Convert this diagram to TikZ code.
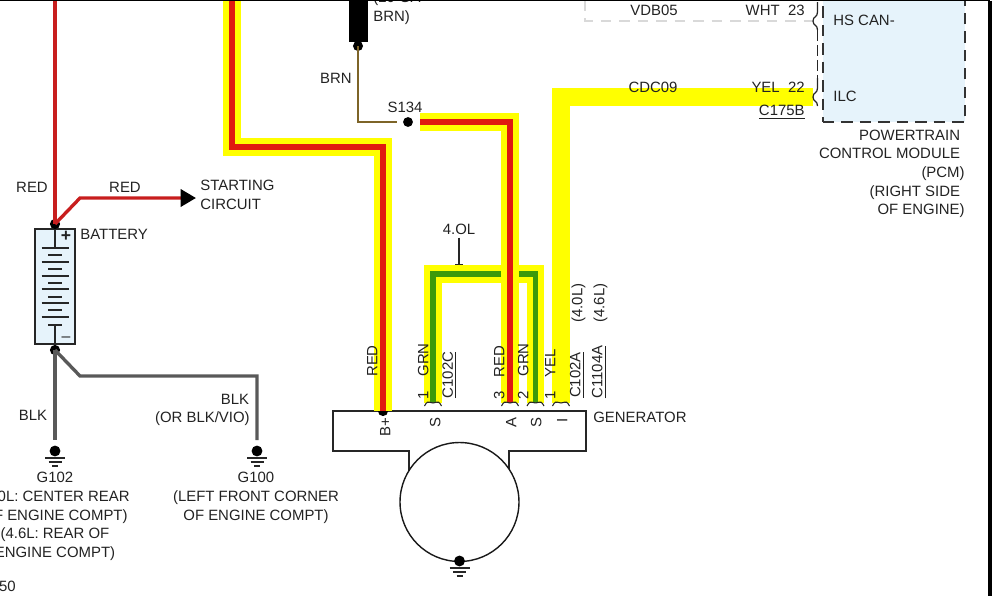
\documentclass[tikz,border=0pt]{standalone}
\usepackage{fontspec}
\setmainfont{Liberation Sans}
\usepackage{xcolor}
\usetikzlibrary{arrows.meta}
\definecolor{wirered}{HTML}{E01A10}
\definecolor{batred}{HTML}{C81E1E}
\definecolor{wireyel}{HTML}{FFFF00}
\definecolor{wiregrn}{HTML}{3C9A0A}
\definecolor{wirebrn}{HTML}{7D6428}
\definecolor{wireblk}{HTML}{595959}
\definecolor{modblue}{HTML}{E6F3FB}
\definecolor{txt}{HTML}{222222}
\newcommand{\lpad}{\rule{2.6pt}{0pt}}
\tikzset{
	lbl/.style={inner sep=0pt,text=txt,font=\fontsize{8.5pt}{10.6pt}\selectfont,text height=6.1pt,text depth=0pt},
	mlbl/.style={inner sep=0pt,text=txt,font=\fontsize{8.5pt}{10.6pt}\selectfont},
	vlbl/.style={lbl,rotate=90},
	dot/.style={circle,fill=black,inner sep=0pt,minimum size=#1},
	halo/.style={wireyel,line width=9.8pt},
	redcore/.style={wirered,line width=3pt},
	grncore/.style={wiregrn,line width=3pt},
	thin wire/.style={line width=0.6pt,black!85}
}
\begin{document}
\begin{tikzpicture}[x=0.02cm,y=-0.02cm]
	\useasboundingbox (0,0) rectangle (1002,596);
	% page edges
	\coordinate (tl) at (0,0.5);
	\coordinate (tr) at (990,0.5);
	\coordinate (br) at (990,596);
	% pcm
	\node [draw=black!80,fill=modblue,dash pattern=on 6.5pt off 4pt,line width=0.8pt,minimum width=2.84cm,minimum height=2.56cm,inner sep=0pt] (pcm) at (894,58) {};
	\node [lbl,anchor=west] (hscan) at (833,20) {HS CAN-};
	\node [lbl,anchor=west] (ilc) at (833,96) {ILC};
	\node [mlbl,anchor=north east,align=right] (pcmname) at (965,129.5) {POWERTRAIN\lpad\\CONTROL MODULE\lpad\\(PCM)\\(RIGHT SIDE\lpad\\OF ENGINE)};
	% can wire
	\coordinate (tabhs) at (813,21);
	\coordinate (tabilc) at (813,97);
	\coordinate (vdbtop) at (585,0);
	\draw [black!15,line width=1.7pt,dash pattern=on 6pt off 4.5pt] (vdbtop) |- (tabhs);
	% generator
	\draw [line width=0.8pt,black!85,fill=white] (409,475) -- (409,451) -- (333,451) -- (333,411) -- (586,411) -- (586,451) -- (509,451) -- (509,475);
	\node [circle,draw=black!90,fill=white,line width=0.8pt,minimum size=2.38cm,inner sep=0pt] (gen) at (459.5,502) {};
	\node [lbl,anchor=west] (genname) at (593,417) {GENERATOR};
	\coordinate (tabs) at (433,403);
	\coordinate (taba) at (510,403);
	\coordinate (tabss) at (535.5,403);
	\coordinate (tabi) at (561,403);
	% wires
	\coordinate (bptop) at (232,0);
	\node [dot=5.8pt] (bplus) at (383,411) {};
	\node [dot=5.6pt] (s134) at (408,122) {};
	\draw [halo] (bptop) |- (383,147) -- (bplus.center);
	\draw [redcore] (bptop) |- (383,147) -- (bplus.center);
	\draw [halo] (tabi) |- (tabilc);
	\draw [halo] (tabs) |- (535.5,274) -- (tabss);
	\draw [grncore] (tabs) |- (535.5,274) -- (tabss);
	\draw [halo,shorten <=6.8pt] (s134.center) -| (taba);
	\draw [redcore,shorten <=6.8pt] (s134.center) -| (taba);
	% tabs on the generator
	\foreach \tname/\tx in {tabs/433,taba/510,tabss/535.5,tabi/561} {
		\draw [thin wire] (\tx-8.5,406) .. controls (\tx-6,401.5) .. (\tname);
		\draw [thin wire] (\tname) .. controls (\tx+6,401.5) .. (\tx+8.5,406);
	}
	% tabs on the pcm
	\draw [thin wire,line width=0.7pt] (817.5,2) -- (817.5,12) .. controls (817.5,18) and (813,16) .. (tabhs) .. controls (813,26) and (817.5,24) .. (817.5,30);
	\draw [thin wire,line width=0.7pt] (817.5,78) -- (817.5,88) .. controls (817.5,94) and (813,92) .. (tabilc) .. controls (813,102) and (817.5,100) .. (817.5,106);
	\draw [thin wire,line width=0.7pt,dash pattern=on 6.5pt off 2pt] (817.5,30) -- (817.5,78);
	% splice feed
	\node [fill=black,minimum width=0.38cm,minimum height=0.84cm,inner sep=0pt] (feed) at (358.5,21) {};
	\node [dot=5.7pt] (feeddot) at (358,46) {};
	\draw [wirebrn,line width=1.7pt,shorten >=6.2pt] (feeddot.center) |- (s134.center);
	% battery
	\node [draw=black!85,fill=modblue,line width=0.7pt,minimum width=0.8cm,minimum height=2.3cm,inner sep=0pt] (batt) at (55,286.5) {};
	\draw [thin wire] (batt.north) -- (55,248);
	\draw [thin wire] (55,325) -- (batt.south);
	\foreach \py/\pw in {248/13.5,255/7,262/13.5,269/7,276/13.5,283/7,289/13.5,297/7,303/13.5,310/7,317/13.5,325/7} {
		\draw [thin wire] (55-\pw,\py) -- (55+\pw,\py);
	}
	\node [mlbl,font=\fontsize{10pt}{10pt}\bfseries\selectfont] (plus) at (66,236) {+};
	\node [mlbl,font=\fontsize{9pt}{10pt}\selectfont] (minus) at (66,339) {--};
	\node [dot=5.8pt] (bpos) at (55,224) {};
	\node [dot=5.8pt] (bneg) at (55,350) {};
	\coordinate (redtop) at (55,0);
	\coordinate (startend) at (196,198);
	\draw [batred,line width=1.9pt] (redtop) -- (bpos.center);
	\draw [batred,line width=1.9pt,-{Triangle[black,length=8.8pt,width=9.8pt]}] (bpos.center) -- (80,198) -- (startend);
	% grounds
	\foreach \gx/\gy/\gname in {55/451/gl,257/451/gr,459.5/561/gg} {
		\node [dot=6.2pt] (\gname) at (\gx,\gy) {};
		\draw [thin wire] (\gx-10,\gy+7) -- (\gx+10,\gy+7);
		\draw [thin wire] (\gx-6.5,\gy+11) -- (\gx+6.5,\gy+11);
		\draw [thin wire] (\gx-3,\gy+15) -- (\gx+3,\gy+15);
	}
	\draw [wireblk,line width=1.9pt,shorten >=6.2pt] (bneg.center) -- (gl.center);
	\draw [wireblk,line width=1.9pt,shorten >=6.2pt] (bneg.center) -- (80,376) -| (gr.center);
	% left labels
	\node [lbl] (redl) at (32,187) {RED};
	\node [lbl] (redm) at (125,187) {RED};
	\node [mlbl,anchor=west,align=left] (startcirc) at (200,195) {STARTING\\CIRCUIT};
	\node [lbl,anchor=west] (battname) at (80,234) {BATTERY};
	\node [lbl] (blkl) at (33,415) {BLK};
	\node [lbl] (blkr) at (235,399) {BLK};
	\node [lbl,anchor=east] (blkvio) at (250,417) {(OR BLK/VIO)};
	\node [mlbl,anchor=north,align=center] (g102) at (55,472) {G102\\(4.0L: CENTER REAR\\OF ENGINE COMPT)\\(4.6L: REAR OF\\ENGINE COMPT)};
	\node [mlbl,anchor=north,align=center] (g100) at (256,472) {G100\\(LEFT FRONT CORNER\\OF ENGINE COMPT)};
	\node [lbl,anchor=east] (pagenum) at (16,586) {50};
	% top labels
	\node [mlbl,anchor=west,align=left] (feedname) at (373,8) {(20 GA-\\BRN)};
	\node [lbl] (brn) at (336,78) {BRN};
	\node [lbl] (s134name) at (405,107) {S134};
	\node [lbl] (ol) at (459,229) {4.OL};
	\coordinate (olend) at (459,265);
	\draw [thin wire,-{Bar[width=4.6pt]}] (ol.south) ++(0,3) -- (olend);
	\node [lbl] (vdb) at (654,10) {VDB05};
	\node [lbl,anchor=east] (wht) at (805,10) {WHT\ \ 23};
	\node [lbl] (cdc) at (653,87) {CDC09};
	\node [lbl,anchor=east] (yel) at (805,87) {YEL\ \ 22};
	\node [mlbl,anchor=east] (c175) at (805,112) {\underline{C175B}};
	% connector labels
	\foreach \lx/\ly/\ltxt/\lname in {372/361/RED/ra,423/360/GRN/gs,423/395/1/na,499/361.5/RED/rb,499/395/3/nb,523/360/GRN/gb,523/395/2/nc,550/363/YEL/ye,550/395/1/nd,577/303/(4.0L)/four,599/303/(4.6L)/six} {
		\node [vlbl] (\lname) at (\lx,\ly) {\ltxt};
	}
	\foreach \lx/\ly/\ltxt/\lname in {449.5/375/C102C/cc,577/375/C102A/ca,599/372/C1104A/ct} {
		\node [mlbl,rotate=90] (\lname) at (\lx,\ly) {\underline{\ltxt}};
	}
	\foreach \lx/\ly/\ltxt/\lname in {385/427/B+/pb,435/423/S/ps,511/423/A/pa,536/423/S/pt,562/420/I/pi} {
		\node [vlbl] (\lname) at (\lx,\ly) {\ltxt};
	}
	% edges of the capture
	\draw [black,line width=1pt] (tl) -- (tr);
	\draw [black,line width=1.8pt] (tr) -- (br);
\end{tikzpicture}
\end{document}
